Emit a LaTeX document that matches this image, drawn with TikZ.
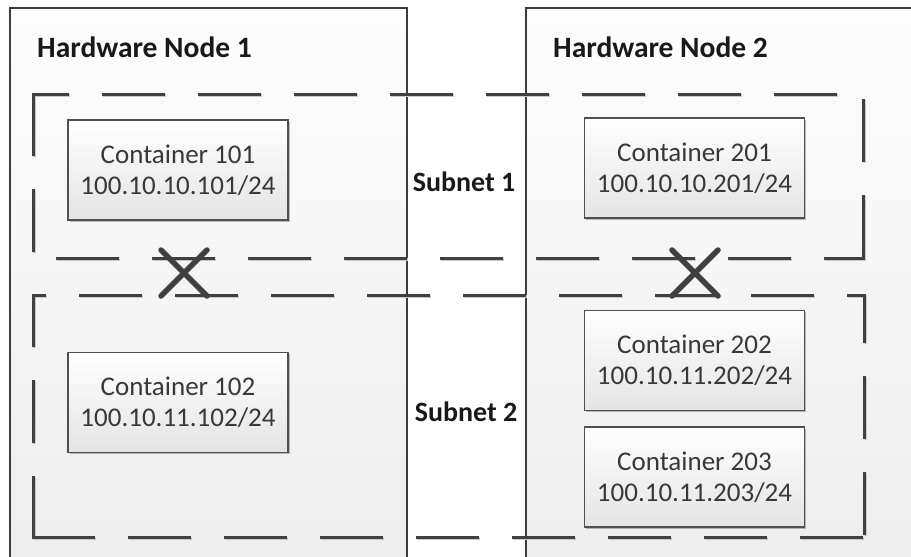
\documentclass[tikz,border=0pt]{standalone}
\usepackage{fontspec}
\setmainfont{Carlito}
\usetikzlibrary{shadows}
\definecolor{hwline}{HTML}{3C3C3C}
\definecolor{hwtop}{HTML}{FDFDFD}
\definecolor{hwbot}{HTML}{EDEDED}
\definecolor{cline}{HTML}{505050}
\definecolor{cbot}{HTML}{E4E4E4}
\definecolor{ctext}{HTML}{383838}
\definecolor{dashc}{HTML}{404040}
\definecolor{shadc}{HTML}{C8C8C8}
\begin{document}
\begin{tikzpicture}[x=1pt,y=-1pt,
  hwbox/.style={draw=hwline, line width=1.2pt, top color=hwtop, bottom color=hwbot},
  cont/.style={draw=cline, line width=1.1pt, top color=white, bottom color=cbot,
    minimum width=220pt, minimum height=100pt, inner sep=0pt, align=center,
    text=ctext, font=\fontsize{27}{31}\selectfont,
    drop shadow={shadow xshift=1.5pt, shadow yshift=-1.5pt, opacity=0.25, fill=black}},
  hwlabel/.style={anchor=west, inner sep=0pt, font=\fontsize{29.5}{33}\selectfont\bfseries, text=black!90},
  netlabel/.style={inner sep=0pt, font=\fontsize{28}{32}\selectfont\bfseries, text=black!90},
  sub/.style={draw=dashc, line width=3pt, line cap=rect, dash pattern=on 60pt off 36pt},
  subshadow/.style={draw=shadc, line width=3pt, line cap=rect, dash pattern=on 60pt off 36pt, xshift=1.5pt, yshift=-1.5pt},
  xmark/.style={draw=dashc, line width=5.5pt, line cap=round}]
\useasboundingbox (0,0) rectangle (911,557);
\fill[white] (0,0) rectangle (911,557);
\clip (0,0) rectangle (911,557);
% hardware nodes
\path[hwbox] (10,8) rectangle (407,580);
\path[hwbox] (526,8) rectangle (940,580);
\node[hwlabel] (hw1) at (37,47.5) {Hardware Node 1};
\node[hwlabel] (hw2) at (553,47.5) {Hardware Node 2};
% subnets (shadow then line)
\foreach \st in {subshadow,sub}{
  \draw[\st, dash phase=26pt] (33,94) -- (863,94);
  \draw[\st, dash phase=90pt] (863,94) -- (863,258);
  \draw[\st, dash phase=0pt] (33,94) -- (33,258);
  \draw[\st, dash phase=72pt] (33,258) -- (863,258);
  \draw[\st, dash phase=49pt] (33,295) -- (864,295);
  \draw[\st, dash phase=14pt] (864,295) -- (864,537);
  \draw[\st, dash phase=10pt] (33,295) -- (33,537);
  \draw[\st, dash phase=0pt] (33,537) -- (864,537);
}
% containers
\node[cont] (c101) at (178,170) {Container 101\\100.10.10.101/24};
\node[cont] (c201) at (694.5,168) {Container 201\\100.10.10.201/24};
\node[cont] (c102) at (178,402.5) {Container 102\\100.10.11.102/24};
\node[cont] (c202) at (694.5,360.5) {Container 202\\100.10.11.202/24};
\node[cont] (c203) at (694.5,477) {Container 203\\100.10.11.203/24};
% subnet labels
\node[netlabel] (s1) at (464,182) {Subnet 1};
\node[netlabel] (s2) at (466,412) {Subnet 2};
% crosses
\coordinate (xa) at (184,273);
\coordinate (xb) at (695,273);
\draw[xmark] ([shift={(-23,-23)}]xa) -- ([shift={(23,23)}]xa);
\draw[xmark] ([shift={(23,-23)}]xa) -- ([shift={(-23,23)}]xa);
\draw[xmark] ([shift={(-23,-23)}]xb) -- ([shift={(23,23)}]xb);
\draw[xmark] ([shift={(23,-23)}]xb) -- ([shift={(-23,23)}]xb);
\end{tikzpicture}
\end{document}
